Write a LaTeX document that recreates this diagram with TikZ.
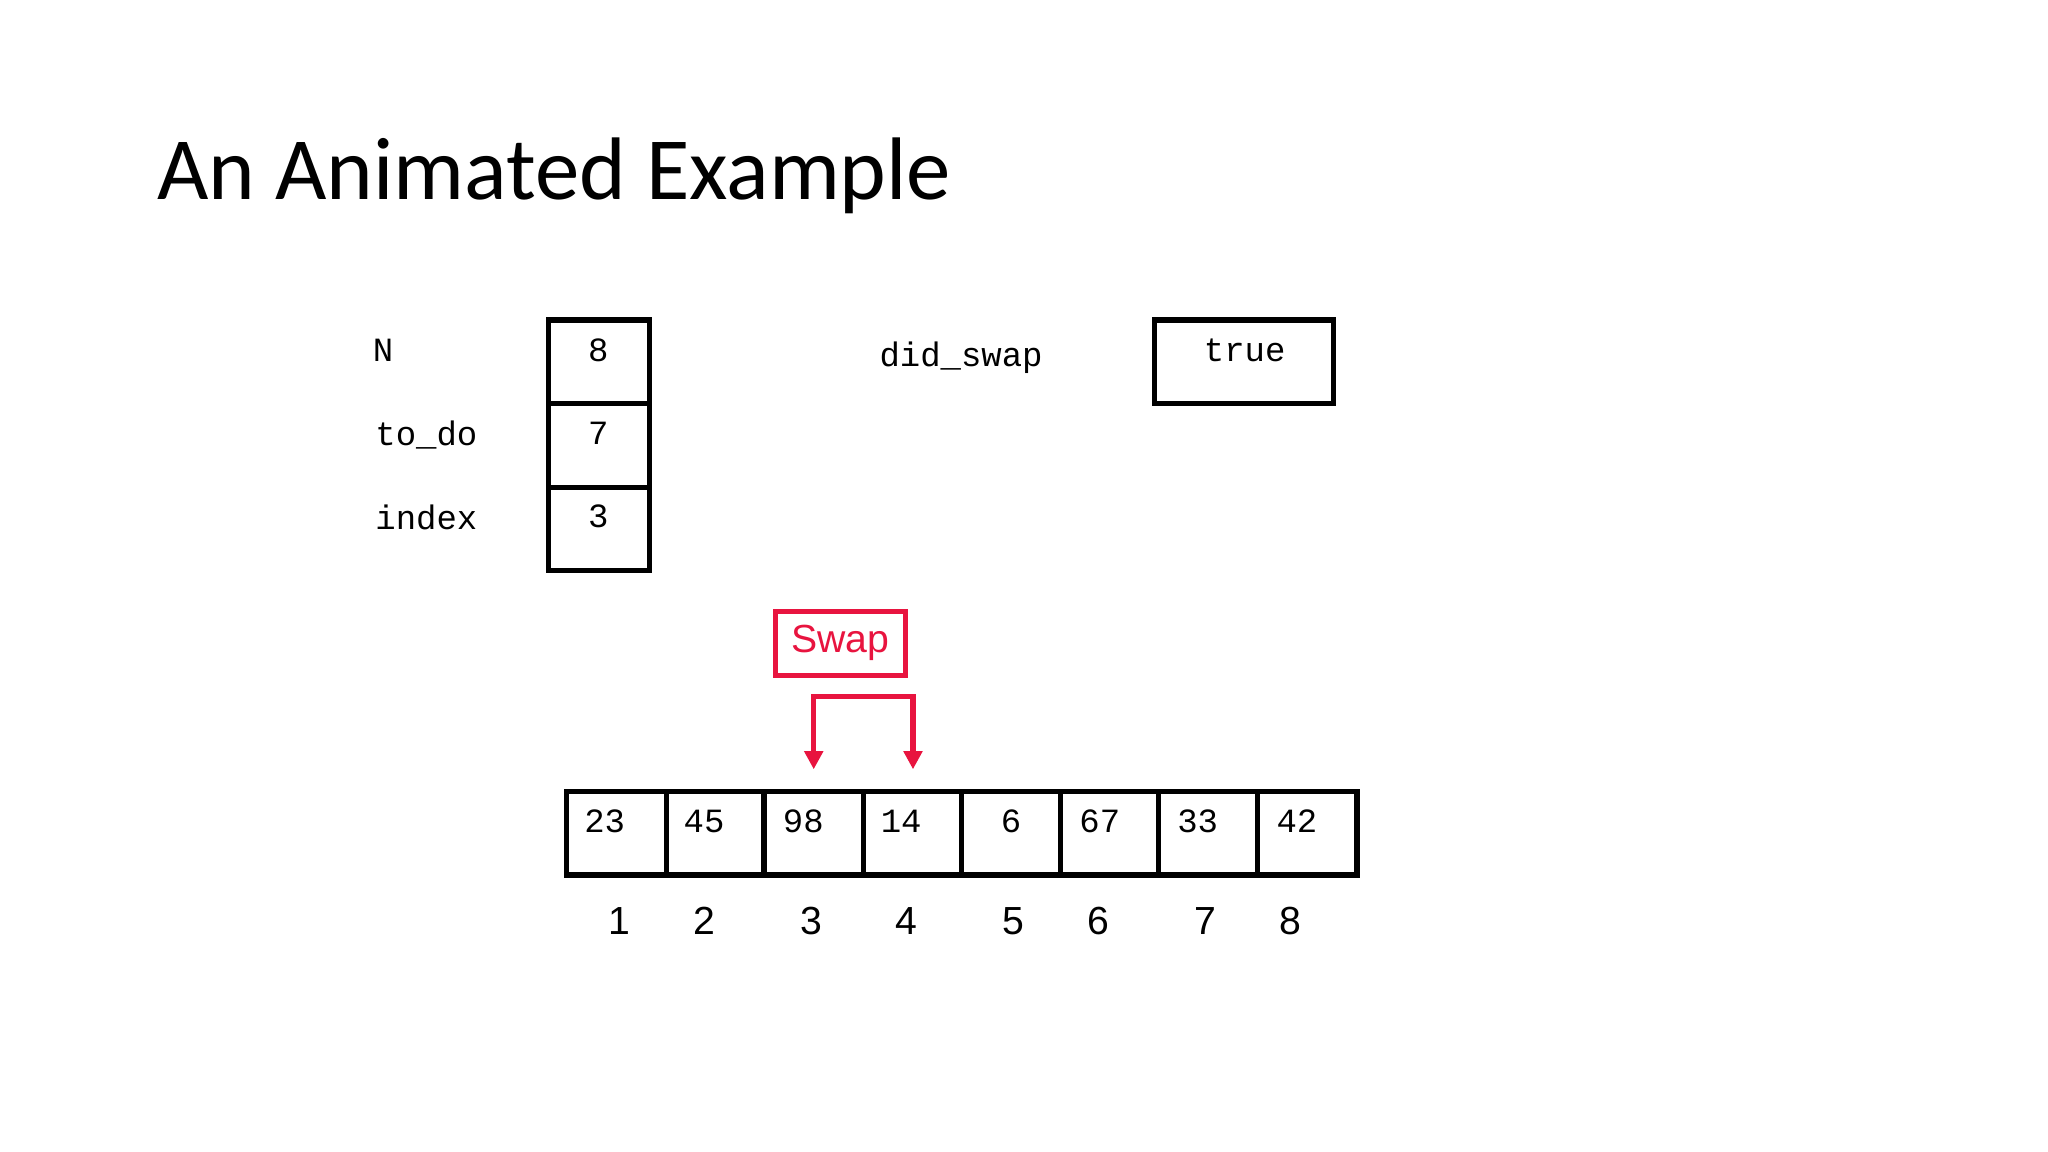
\documentclass[tikz,border=0pt]{standalone}
\usepackage{fontspec}
\setmainfont{Carlito}
\newfontfamily\mono{Liberation Mono}
\newfontfamily\arial{Liberation Sans}
\usetikzlibrary{arrows.meta}
\definecolor{swapred}{HTML}{E8143F}
\begin{document}
\begin{tikzpicture}[x=0.5pt,y=-0.5pt,
  box/.style={draw=black,line width=2pt},
  mtxt/.style={font=\mono\fontsize{13}{15}\selectfont,inner sep=0pt},
  idx/.style={font=\arial\fontsize{15}{18}\selectfont,inner sep=0pt},
  red/.style={draw=swapred,line width=2pt}]
\useasboundingbox (0,0) rectangle (1568,882);
\node[anchor=base west,inner sep=0pt,font=\fontsize{34}{40}\selectfont] (title) at (120,153) {An Animated Example};
% variable boxes
\draw[box] (420,245) rectangle (497,309);
\draw[box] (420,309) rectangle (497,373);
\draw[box] (420,373) rectangle (497,437);
\node[mtxt] (vN) at (458,268) {8};
\node[mtxt] (vT) at (458,332) {7};
\node[mtxt] (vI) at (458,395) {3};
\node[mtxt,anchor=west] (lN) at (285,268) {N};
\node[mtxt,anchor=west] (lT) at (287,333) {to\_do};
\node[mtxt,anchor=west] (lI) at (287,396) {index};
\node[mtxt,anchor=west] (lD) at (673,274) {did\_swap};
\draw[box] (884,245) rectangle (1021,309);
\node[mtxt] (vD) at (953,268) {true};
% swap
\node[red,minimum width=49.5pt,minimum height=24.5pt,inner sep=0pt,text=swapred,font=\arial\fontsize{15}{18}\selectfont] (swap) at (643.5,492.5) {Swap};
\coordinate (a3) at (623,589);
\coordinate (a4) at (699,589);
\draw[red,-{Triangle[length=7pt,width=7pt]}] (699,533) -| (a3);
\draw[red,-{Triangle[length=7pt,width=7pt]}] (623,533) -| (a4);
% array
\draw[box] (434,606) rectangle (1039,670);
\foreach \x in {510,585,661,736,812,887,963} \draw[box] (\x,606) -- (\x,670);
\foreach \v/\x/\n in {23/463/1,45/539/2,98/615/3,14/690/4,6/774/5,67/842/6,33/917/7,42/993/8}
  \node[mtxt] (c\n) at (\x,629) {\v};
\foreach \i/\x in {1/474,2/539,3/621,4/694,5/776,6/841,7/923,8/988}
  \node[idx] (i\i) at (\x,705) {\i};
\end{tikzpicture}
\end{document}
